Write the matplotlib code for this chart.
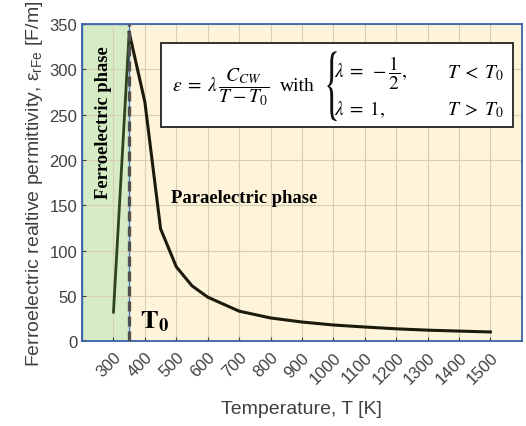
import matplotlib.pyplot as plt
from matplotlib.patches import Rectangle, PathPatch
from matplotlib.textpath import TextPath
from matplotlib.font_manager import FontProperties
from matplotlib.transforms import Affine2D

# values
T0 = 350
ferro_T = [300, 350]
ferro_eps = [32, 341]
para_T = [350, 400, 450, 500, 550, 600, 700, 800, 900, 1000, 1100, 1200, 1300, 1400, 1500]
para_eps = [341, 264, 124, 82, 61, 48.5, 33, 25.5, 21, 17.7, 15.5, 13.5, 12, 11, 10]
xticks = list(range(300, 1600, 100))
yticks = list(range(0, 400, 50))

plt.rcParams['font.family'] = ['Liberation Sans', 'DejaVu Sans']
plt.rcParams['mathtext.fontset'] = 'stix'

fig = plt.figure(figsize=(5.26, 4.27), dpi=100)
ax = fig.add_axes([0.156, 0.199, 0.836, 0.742])

ax.set_facecolor('#fef4d9')
ax.axvspan(200, T0, color='#d6ecc4', ec='#4a78c0', lw=1, zorder=0)

ax.plot(ferro_T, ferro_eps, color='#2c4520', lw=2, zorder=3)
ax.plot(para_T, para_eps, color='#1c1a0c', lw=2.2, zorder=3)
ax.axvline(T0, color='#505050', lw=2.4, ls=(0, (3, 1.5)), zorder=4)

ax.set_xlim(200, 1600)
ax.set_ylim(0, 350)
ax.set_xticks(xticks)
ax.set_yticks(yticks)
ax.set_xticklabels([str(t) for t in xticks], rotation=45, ha='right',
                   rotation_mode='anchor', fontsize=12, color='#404040')
ax.set_yticklabels([str(t) for t in yticks], fontsize=12, color='#404040')
ax.tick_params(direction='in', length=3, color='#404040')
ax.tick_params(axis='x', pad=6)
ax.grid(True, color='#d8ceb4', lw=0.8)
ax.set_axisbelow(True)
for s in ax.spines.values():
    s.set_color('#3a62a8')
    s.set_linewidth(1.3)

ax.set_xlabel('Temperature, T [K]', fontsize=14, color='#404040', labelpad=10)
ax.set_ylabel(r'Ferroelectric realtive permittivity, $\mathregular{\epsilon_{rFe}}$ [F/m]',
              fontsize=14, color='#404040', labelpad=3)

serif = ['Liberation Serif', 'DejaVu Serif']
ax.text(267, 242, 'Ferroelectric phase', rotation=90, ha='center', va='center',
        fontsize=13.3, fontweight='bold', family=serif, zorder=5)
ax.text(484, 159, 'Paraelectric phase', ha='left', va='center',
        fontsize=13.4, fontweight='bold', family=serif, zorder=5)
ax.text(383, 22, r'$\mathbf{T_0}$', ha='left', va='center', fontsize=19, zorder=5)

# formula box
box = Rectangle((0.18, 0.675), 0.80, 0.265, transform=ax.transAxes,
                fc='white', ec='#222222', lw=1.3, zorder=5)
ax.add_patch(box)
fs = 14
ax.text(0.205, 0.804, r'$\varepsilon\;=\;\lambda\,\dfrac{C_{CW}}{T-T_0}$', transform=ax.transAxes,
        ha='left', va='center', fontsize=fs, zorder=6)
ax.text(0.45, 0.808, 'with', transform=ax.transAxes, ha='left', va='center',
        fontsize=fs, family=serif, zorder=6)

# tall thin brace
tp = TextPath((0, 0), '{', size=1, prop=FontProperties(family='STIXGeneral'))
ext = tp.get_extents()
bx, by, bw, bh = 0.557, 0.694, 0.022, 0.221
tr = (Affine2D().translate(-ext.x0, -ext.y0)
      .scale(bw / ext.width, bh / ext.height).translate(bx, by) + ax.transAxes)
ax.add_patch(PathPatch(tp, transform=tr, fc='#111111', ec='none', zorder=6))

ax.text(0.572, 0.849, r'$\lambda\;=\;-\dfrac{1}{2},$', transform=ax.transAxes,
        ha='left', va='center', fontsize=fs, zorder=6)
ax.text(0.572, 0.732, r'$\lambda\;=\;1,$', transform=ax.transAxes,
        ha='left', va='center', fontsize=fs, zorder=6)
ax.text(0.83, 0.849, r'$T\;<\;T_0$', transform=ax.transAxes,
        ha='left', va='center', fontsize=fs, zorder=6)
ax.text(0.83, 0.732, r'$T\;>\;T_0$', transform=ax.transAxes,
        ha='left', va='center', fontsize=fs, zorder=6)

fig.savefig('out.png', dpi=100)
